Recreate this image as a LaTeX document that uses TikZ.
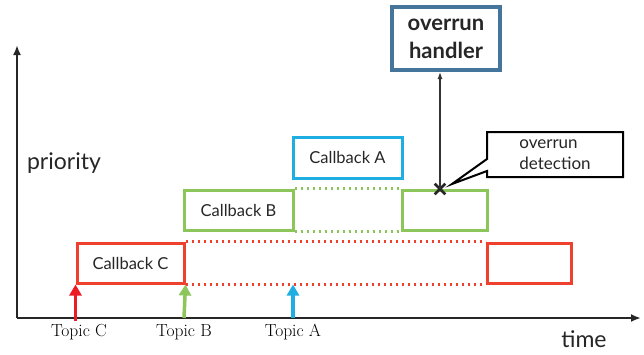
\documentclass[tikz,border=0pt]{standalone}
\usepackage{fontspec}
\setsansfont{Lato}
\usetikzlibrary{arrows.meta, shapes.misc, shapes.callouts}
\definecolor{cbRed}{RGB}{238, 64, 45}
\definecolor{cbGreen}{RGB}{140, 198, 90}
\definecolor{cbBlue}{RGB}{30, 174, 226}
\definecolor{handlerBlue}{RGB}{70, 117, 155}
\definecolor{topicRed}{RGB}{237, 28, 36}

\begin{document}
\begin{tikzpicture}[x=1pt, y=-1pt]
    \tikzstyle{cb} = [draw, rectangle, line width=3pt, minimum width=107pt, minimum height=40pt, font=\sffamily\fontsize{16.5}{19}\selectfont, text=black!85]
    \tikzstyle{idle} = [line width=2.5pt, dash pattern=on 2.5pt off 3.5pt]
    \tikzstyle{topic} = [line width=3.5pt, -{Triangle[width=12pt, length=11pt]}]
    \tikzstyle{axis} = [line width=2.5pt, black!85, -{Latex[length=10pt, width=8pt]}]
    \useasboundingbox (0,0) rectangle (644,354);

    % axes
    \coordinate (origin) at (17,318);
    \coordinate (ytop) at (17,45);
    \coordinate (xend) at (641,318);
    \draw [axis] (origin) -- (ytop);
    \draw [axis] (origin) -- (xend);
    \node [font=\sffamily\fontsize{23}{26}\selectfont, text=black!85] (prio) at (64,163) {priority};
    \node [font=\sffamily\fontsize{23}{26}\selectfont, text=black!85] (time) at (584,339) {time};

    % callbacks
    \node [cb, draw=cbRed] (cbC) at (130.5,263) {Callback C};
    \node [cb, draw=cbRed, minimum width=84pt] (cbC2) at (529,263) {};
    \node [cb, draw=cbGreen, minimum width=109pt] (cbB) at (238.5,210) {Callback B};
    \node [cb, draw=cbGreen, minimum width=85pt] (cbB2) at (444.5,210) {};
    \node [cb, draw=cbBlue, minimum width=109pt, minimum height=41pt] (cbA) at (347.5,157.5) {Callback A};

    \draw [idle, cbRed] (cbC.north east) -- (cbC2.north west);
    \draw [idle, cbRed] (cbC.south east) -- (cbC2.south west);
    \draw [idle, cbGreen] (cbB.north east) -- (cbB2.north west);
    \draw [idle, cbGreen] (cbB.south east) -- (cbB2.south west);

    % topics
    \node [font=\fontsize{17.5}{19}\selectfont] (tC) at (79,332) {Topic C};
    \node [font=\fontsize{17.5}{19}\selectfont] (tB) at (184,332) {Topic B};
    \node [font=\fontsize{17.5}{19}\selectfont] (tA) at (293,332) {Topic A};
    \draw [topic, topicRed] (tC.north -| cbC.west |- origin) -- (cbC.south west);
    \draw [topic, cbGreen] (tB |- origin) -- (cbC.south east);
    \draw [topic, cbBlue] (tA |- origin) -- (tA |- cbC.south);

    % overrun
    \node [draw=handlerBlue, line width=4pt, minimum width=108pt, minimum height=63pt, align=center, font=\sffamily\bfseries\fontsize{22}{28}\selectfont, text=black!85] (handler) at (446,38.5) {overrun\\handler};
    \node [cross out, draw=black!85, line width=2.6pt, minimum size=8pt, inner sep=0pt] (cross) at (440,189) {};
    \draw [line width=1.2pt, black!80, -{Latex[length=7pt, width=5pt]}] (cross.center) -- (cross |- handler.south);
    \node [rectangle callout, draw, line width=2pt, fill=white, minimum width=136pt, minimum height=45pt, callout absolute pointer={(452,184)}, callout pointer width=12pt, align=left, font=\sffamily\fontsize{17}{21}\selectfont, text=black!85] (detect) at (555,154.5) {overrun\\detection};
\end{tikzpicture}
\end{document}
